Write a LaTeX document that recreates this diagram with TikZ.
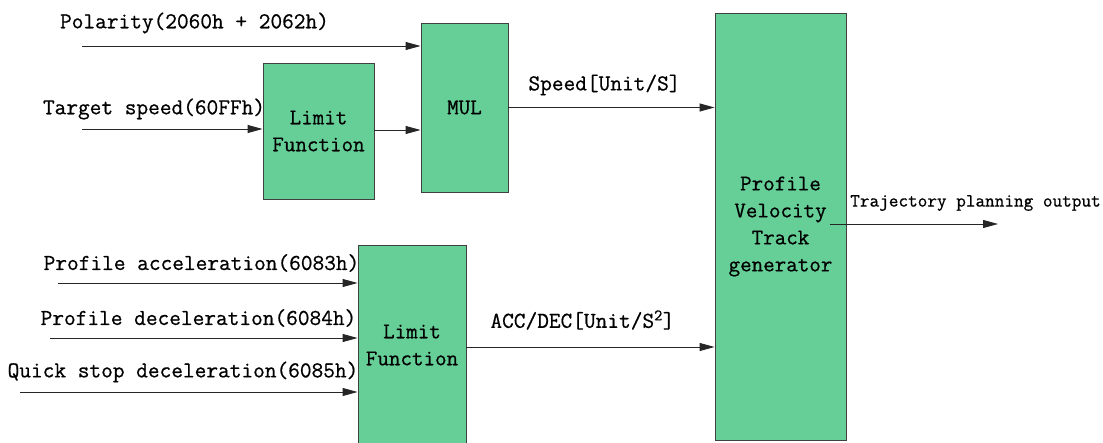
\documentclass[tikz,border=0pt]{standalone}
\usepackage{fontspec}
\newfontfamily\reffont{Latin Modern Mono}[FakeBold=0.7]
\usetikzlibrary{arrows.meta}
\definecolor{boxgreen}{HTML}{66CF97}
\definecolor{boxline}{HTML}{404040}
\tikzset{
  blk/.style={draw=boxline, line width=0.9pt, fill=boxgreen, inner sep=0pt, align=center,
    font=\fontsize{22.4}{27}\selectfont\reffont},
  lbl/.style={inner sep=0pt, font=\fontsize{22.7}{25}\selectfont\reffont},
  smlbl/.style={inner sep=0pt, font=\fontsize{18.7}{21}\selectfont\reffont},
  conn/.style={draw=black!85, line width=0.9pt, -{Triangle[length=15pt,width=8pt]}}
}
\begin{document}
\begin{tikzpicture}[x=1pt,y=-1pt]
\useasboundingbox[fill=white] (0,0) rectangle (1103,443);
% blocks
\node[blk, minimum width=111pt, minimum height=136pt] (lim1) at (318.5,131) {Limit\\Function};
\node[blk, minimum width=87pt, minimum height=169pt] (mul) at (464.5,107.5) {MUL};
\node[blk, minimum width=131pt, minimum height=427pt] (pvt) at (780.5,226.5) {Profile\\Velocity\\Track\\generator};
\node[blk, minimum width=108pt, minimum height=200pt] (lim2) at (412,345) {Limit\\Function};
% input coordinates
\coordinate (polS) at (82,46);
\coordinate (tgtS) at (82,129);
\coordinate (accS) at (58,283);
\coordinate (decS) at (50,338);
\coordinate (qsS) at (20,392);
\coordinate (outS) at (830,224);
\coordinate (outE) at (998,224);
% connectors
\draw[conn] (polS) -- (polS -| mul.west);
\draw[conn] (tgtS) -- (tgtS -| lim1.west);
\draw[conn] (lim1.east |- 0,130) -- (mul.west |- 0,130);
\draw[conn] (mul.east) -- (pvt.west |- mul.east);
\draw[conn] (accS) -- (accS -| lim2.west);
\draw[conn] (decS) -- (decS -| lim2.west);
\draw[conn] (qsS) -- (qsS -| lim2.west);
\draw[conn] (lim2.east |- 0,347) -- (pvt.west |- 0,347);
\draw[conn] (outS) -- (outE);
% labels
\node[lbl] (tpol) at (194.5,23) {Polarity(2060h + 2062h)};
\node[lbl] (ttgt) at (154,109) {Target speed(60FFh)};
\node[lbl] (tspd) at (604.5,85) {Speed[Unit/S]};
\node[lbl] (tacc) at (201.5,263) {Profile acceleration(6083h)};
\node[lbl] (tdec) at (198.5,318) {Profile deceleration(6084h)};
\node[lbl] (tqs) at (183,372) {Quick stop deceleration(6085h)};
\node[lbl] (tacd) at (582.5,320) {ACC/DEC[Unit/S\textsuperscript{2}]};
\node[smlbl] (tout) at (975.5,203) {Trajectory planning output};
\end{tikzpicture}
\end{document}
